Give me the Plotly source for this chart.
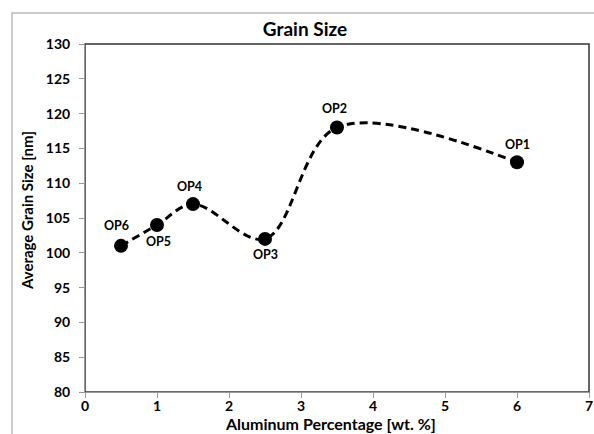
import plotly.graph_objects as go

x_vals = [0.5, 1.0, 1.5, 2.5, 3.5, 6.0]
y_vals = [101, 104, 107, 102, 118, 113]
labels = ["OP6", "OP5", "OP4", "OP3", "OP2", "OP1"]
# label offsets relative to marker (pixels)
label_dx = [-5, 1, -4, 0, -3, 0]
label_dy = [20, -17, 18, -16, 19, 18]

W, H = 594, 434
ml, mr, mt, mb = 85, 5, 44, 42
pw, ph = W - ml - mr, H - mt - mb

FONT = "Lato"

fig = go.Figure()
fig.add_trace(go.Scatter(
    x=x_vals, y=y_vals,
    mode="lines+markers",
    line=dict(color="black", width=3, dash="8px,5px", shape="spline", smoothing=1.0),
    marker=dict(color="black", size=14),
    cliponaxis=False,
    showlegend=False,
    hoverinfo="skip",
))

annotations = []
for xv, yv, t, dx, dy in zip(x_vals, y_vals, labels, label_dx, label_dy):
    annotations.append(dict(x=xv, y=yv, xref="x", yref="y", text="<b>%s</b>" % t,
                            showarrow=False, xshift=dx, yshift=dy,
                            xanchor="center", yanchor="middle",
                            font=dict(family=FONT, size=12.5, color="black")))

annotations.append(dict(text="<b>Aluminum Percentage [wt. %]</b>", xref="paper", yref="paper",
                        x=(330 - ml) / pw, y=-(424 - (H - mb)) / ph, xanchor="center", yanchor="middle",
                        showarrow=False, borderpad=0,
                        font=dict(family=FONT, size=16, color="black")))
annotations.append(dict(text="<b>Average Grain Size [nm]</b>", xref="paper", yref="paper",
                        x=-(ml - 27) / pw, y=(H - mb - 211) / ph, xanchor="center", yanchor="middle",
                        textangle=-90,
                        showarrow=False, font=dict(family=FONT, size=15, color="black")))

fig.update_layout(
    width=W, height=H,
    margin=dict(l=ml, r=mr, t=mt, b=mb, autoexpand=False),
    paper_bgcolor="white", plot_bgcolor="white",
    title=dict(text="<b>Grain Size</b>", x=305 / W, xanchor="center",
               y=1 - 29 / H, yanchor="middle",
               font=dict(family=FONT, size=19, color="black")),
    font=dict(family=FONT, color="black"),
    xaxis=dict(range=[0, 7], dtick=1, showgrid=False, zeroline=False,
               showline=True, linecolor="#999", linewidth=1,
               ticks="outside", ticklen=5, tickcolor="#999", ticklabelstandoff=-4,
               tickfont=dict(family=FONT, size=14, color="black", weight="bold")),
    yaxis=dict(range=[80, 130], dtick=5, showgrid=False, zeroline=False,
               showline=True, linecolor="#999", linewidth=1,
               ticks="outside", ticklen=5, tickcolor="#999", ticklabelstandoff=6,
               tickfont=dict(family=FONT, size=14, color="black", weight="bold")),
    annotations=annotations,
    shapes=[
        dict(type="rect", xref="paper", yref="paper",
             x0=(12 - ml) / pw, x1=1.5, y0=-0.5, y1=1 + (mt - 13) / ph,
             line=dict(color="#bbbbbb", width=1.5), layer="below"),
        dict(type="rect", xref="paper", yref="paper", x0=0, x1=1, y0=0, y1=1,
             line=dict(color="#333333", width=1.5), layer="below"),
    ],
)

fig.write_html("out.html", config={"displayModeBar": False},
               post_script="document.body.style.margin='0';document.body.style.overflow='hidden';")
